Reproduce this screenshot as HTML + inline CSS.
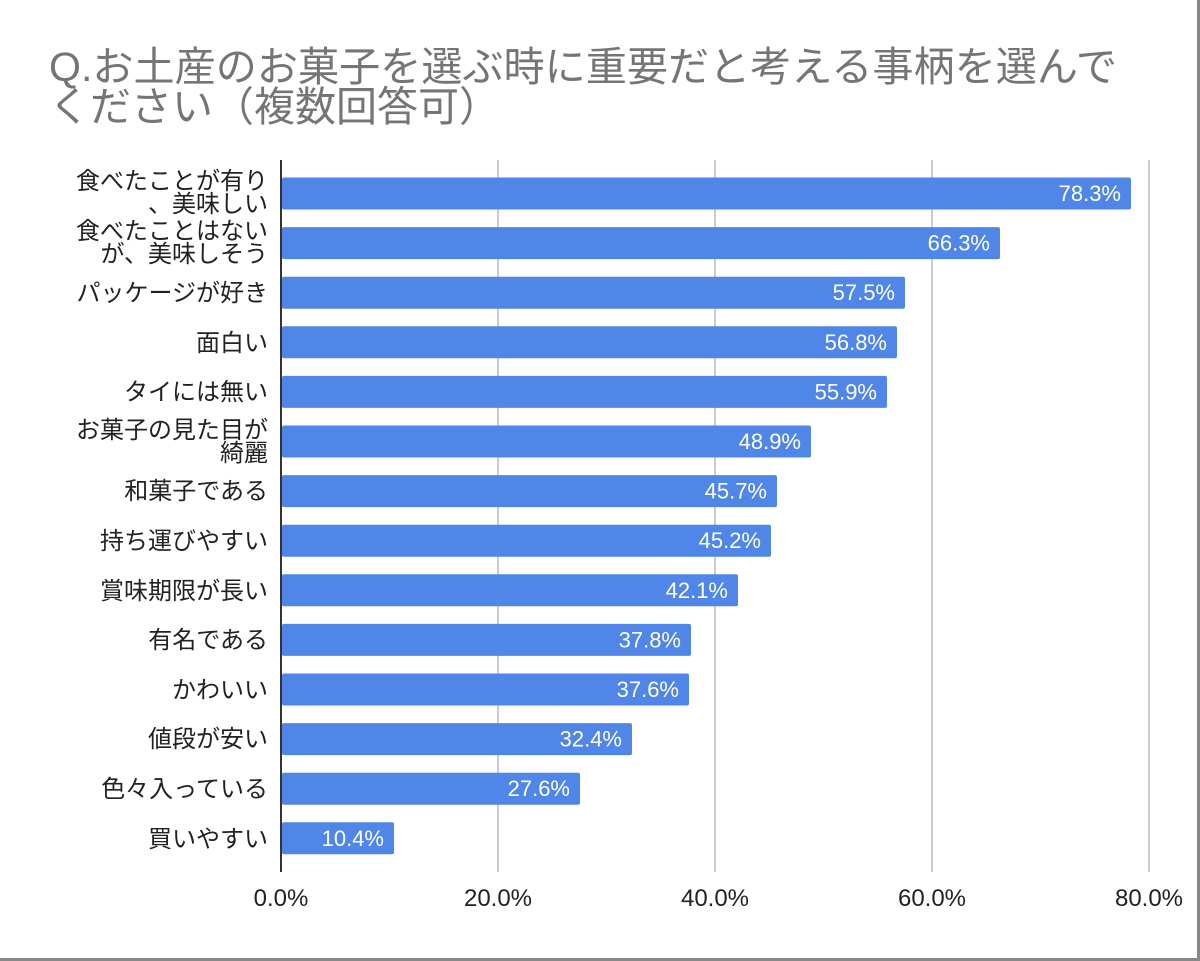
<!DOCTYPE html>
<html><head><meta charset="utf-8"><style>
html,body{margin:0;padding:0;background:#fff}
svg{display:block}
text{font-family:"Liberation Sans","Noto Sans CJK JP",sans-serif}
.l{font-size:24px;fill:#222;text-anchor:end}
.v{font-size:22px;fill:#fff;text-anchor:end}
rect.b{fill:#4f86e8}
</style></head><body>
<svg width="1200" height="961" viewBox="0 0 1200 961">
<rect x="0" y="0" width="1200" height="961" fill="#fff"/>
<line x1="1198.5" y1="0" x2="1198.5" y2="961" stroke="#888" stroke-width="3"/>
<line x1="0" y1="959.5" x2="1200" y2="959.5" stroke="#888" stroke-width="3"/>
<text x="49" y="81" font-size="41" fill="#757575" textLength="1068" lengthAdjust="spacingAndGlyphs">Q.お土産のお菓子を選ぶ時に重要だと考える事柄を選んで</text>
<text x="49" y="121" font-size="41" fill="#757575">ください（複数回答可）</text>
<g stroke="#ccc" stroke-width="2">
<line x1="498" y1="160" x2="498" y2="872"/>
<line x1="715" y1="160" x2="715" y2="872"/>
<line x1="932" y1="160" x2="932" y2="872"/>
<line x1="1149" y1="160" x2="1149" y2="872"/>
</g>
<g font-size="24" fill="#222" text-anchor="middle">
<text x="281" y="906">0.0%</text>
<text x="498" y="906">20.0%</text>
<text x="715" y="906">40.0%</text>
<text x="932" y="906">60.0%</text>
<text x="1149" y="906">80.0%</text>
</g>
<rect class="b" x="282" y="177.5" width="849" height="32" rx="2"/>
<rect class="b" x="282" y="227.1" width="718" height="32" rx="2"/>
<rect class="b" x="282" y="276.7" width="623" height="32" rx="2"/>
<rect class="b" x="282" y="326.3" width="615" height="32" rx="2"/>
<rect class="b" x="282" y="375.9" width="605" height="32" rx="2"/>
<rect class="b" x="282" y="425.5" width="529" height="32" rx="2"/>
<rect class="b" x="282" y="475.1" width="495" height="32" rx="2"/>
<rect class="b" x="282" y="524.7" width="489" height="32" rx="2"/>
<rect class="b" x="282" y="574.3" width="456" height="32" rx="2"/>
<rect class="b" x="282" y="623.9" width="409" height="32" rx="2"/>
<rect class="b" x="282" y="673.5" width="407" height="32" rx="2"/>
<rect class="b" x="282" y="723.1" width="350" height="32" rx="2"/>
<rect class="b" x="282" y="772.7" width="298" height="32" rx="2"/>
<rect class="b" x="282" y="822.3" width="112" height="32" rx="2"/>
<text class="v" x="1121" y="201">78.3%</text>
<text class="v" x="990" y="250.6">66.3%</text>
<text class="v" x="895" y="300.2">57.5%</text>
<text class="v" x="887" y="349.8">56.8%</text>
<text class="v" x="877" y="399.4">55.9%</text>
<text class="v" x="801" y="449">48.9%</text>
<text class="v" x="767" y="498.6">45.7%</text>
<text class="v" x="761" y="548.2">45.2%</text>
<text class="v" x="728" y="597.8">42.1%</text>
<text class="v" x="681" y="647.4">37.8%</text>
<text class="v" x="679" y="697">37.6%</text>
<text class="v" x="622" y="746.6">32.4%</text>
<text class="v" x="570" y="796.2">27.6%</text>
<text class="v" x="384" y="845.8">10.4%</text>
<text class="l" x="268" y="189">食べたことが有り</text>
<text class="l" x="268" y="212">、美味しい</text>
<text class="l" x="268" y="239">食べたことはない</text>
<text class="l" x="268" y="262">が、美味しそう</text>
<text class="l" x="268" y="301">パッケージが好き</text>
<text class="l" x="268" y="351">面白い</text>
<text class="l" x="268" y="400">タイには無い</text>
<text class="l" x="268" y="438">お菓子の見た目が</text>
<text class="l" x="268" y="461">綺麗</text>
<text class="l" x="268" y="499">和菓子である</text>
<text class="l" x="268" y="549">持ち運びやすい</text>
<text class="l" x="268" y="599">賞味期限が長い</text>
<text class="l" x="268" y="648">有名である</text>
<text class="l" x="268" y="698">かわいい</text>
<text class="l" x="268" y="747">値段が安い</text>
<text class="l" x="268" y="797">色々入っている</text>
<text class="l" x="268" y="847">買いやすい</text>
<line x1="281" y1="160" x2="281" y2="872" stroke="#333" stroke-width="2"/>
</svg>
</body></html>
